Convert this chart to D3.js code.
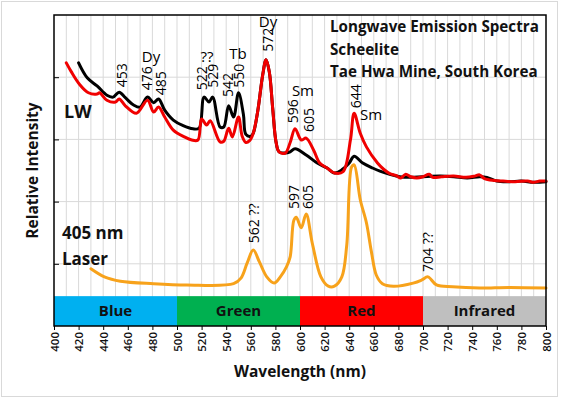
<!DOCTYPE html>
<html>
<head>
<meta charset="utf-8">
<script src="https://cdn.jsdelivr.net/npm/d3@7"></script>
<style>
body { margin: 0; background: #fff; }
svg text { font-family: "Open Sans", "DejaVu Sans", sans-serif; fill: #111; }
.grid line { stroke: #d9d9d9; stroke-width: 1; }
.band-label { font-weight: 700; font-size: 15px; }
.peak { font-size: 14px; fill: #000; }
.note { font-weight: 700; }
</style>
</head>
<body>
<svg class="main" width="561" height="399"></svg>
<script>
// longwave spectrum (black)
var lwWave = [420, 427, 435, 443, 448, 453, 458, 465, 470, 476, 481, 485, 490, 497, 505, 513, 518,
    522, 526, 529, 535, 538, 542, 546, 550, 554, 556, 560, 562, 565.6, 569.7, 572.4, 575, 577.8, 580.5, 583, 588, 592,
    596, 605, 614, 622, 628, 634, 640, 644, 651, 659, 665, 673, 681, 690, 700, 714, 725, 736,
    746, 752, 760, 770, 780, 790, 800];
var lwVals = [4.23, 3.99, 3.86, 3.71, 3.68, 3.76, 3.67, 3.55, 3.52, 3.68, 3.59, 3.65, 3.47, 3.31, 3.22, 3.17, 3.18,
    3.68, 3.60, 3.68, 3.20, 3.20, 3.54, 3.36, 3.75, 3.40, 3.08, 3.05, 3.10, 3.45, 4.04, 4.28, 4.09, 3.50, 2.96, 2.80, 2.78, 2.80,
    2.85, 2.75, 2.62, 2.54, 2.46, 2.51, 2.62, 2.73, 2.62, 2.54, 2.49, 2.44, 2.40, 2.39, 2.40, 2.41, 2.40, 2.38,
    2.40, 2.39, 2.33, 2.32, 2.33, 2.31, 2.32];

// second longwave trace (red)
var redWave = [410, 414, 421, 428, 435, 437, 443, 450, 453, 458, 467, 476, 481, 485, 490, 497, 506, 512, 517,
    520, 524, 527, 535, 538, 542, 545, 550, 553, 556, 559, 562, 565.6, 569.7, 572.4, 575, 577.8, 580.5, 583, 588, 592,
    596, 601, 605, 611, 616, 622, 628, 635, 641, 644, 649, 654, 663, 668, 673, 678, 682, 686, 690,
    695, 700, 705, 708, 715, 725, 735, 742, 746, 750, 758, 765, 775, 785, 790, 795, 800];
var redVals = [4.23, 4.09, 3.88, 3.75, 3.73, 3.75, 3.63, 3.60, 3.65, 3.54, 3.42, 3.63, 3.44, 3.52, 3.36, 3.15, 3.04, 2.99, 2.99,
    3.33, 3.23, 3.30, 2.96, 2.97, 3.18, 3.04, 3.36, 3.05, 2.95, 2.98, 3.10, 3.45, 4.04, 4.28, 4.09, 3.50, 2.96, 2.80, 2.78, 2.95,
    3.17, 2.99, 3.02, 2.83, 2.62, 2.54, 2.46, 2.48, 2.99, 3.42, 3.10, 2.88, 2.62, 2.52, 2.45, 2.42, 2.38, 2.44, 2.40,
    2.38, 2.40, 2.44, 2.39, 2.40, 2.41, 2.39, 2.41, 2.43, 2.37, 2.34, 2.33, 2.32, 2.33, 2.31, 2.33, 2.33];

// 405 nm laser excitation (orange)
var laserWave = [430, 441, 454, 481, 508, 546, 552, 557, 562, 567, 573, 579, 584, 589, 592, 595, 597, 601,
    605, 610, 617, 623, 628, 634, 638, 642, 644, 649, 654, 658, 662, 667, 676, 692, 699, 704, 711, 724, 746, 770, 800];
var laserVals = [0.92, 0.79, 0.72, 0.68, 0.66, 0.68, 0.77, 1.01, 1.22, 1.03, 0.79, 0.69, 0.79, 0.95, 1.11, 1.70, 1.75, 1.58,
    1.80, 1.33, 0.79, 0.64, 0.64, 0.79, 1.30, 2.56, 2.59, 2.03, 1.66, 1.20, 0.82, 0.68, 0.64, 0.69, 0.74, 0.79, 0.66, 0.63, 0.61, 0.62, 0.61];

var bandNames = ["Blue", "Green", "Red", "Infrared"];
var bandStart = [400, 500, 600, 700];
var bandEnd = [500, 600, 700, 800];
var bandTop = 0.48;

var xTicks = d3.range(400, 801, 20);
var xGrid = d3.range(410, 800, 10);
var yTicks = [0, 1, 2, 3, 4, 5];

// rotated peak labels: text, wavelength, intensity at the label foot
var peakText = ["453", "476", "485", "522", "529", "542", "550", "572", "596", "605", "644", "562 ??", "597", "605", "704 ??"];
var peakNm = [455.3, 475.6, 487, 520.3, 529.3, 541.5, 550.4, 574, 594.3, 607.3, 645.5, 562.6, 595.1, 606.5, 704.1];
var peakAt = [3.84, 3.79, 3.71, 3.79, 3.83, 3.68, 3.83, 4.41, 3.26, 3.12, 3.50, 1.33, 1.88, 1.88, 0.87];

// element tags above the peaks
var tagText = ["Dy", "??", "Tb", "Dy", "Sm", "Sm"];
var tagNm = [478.9, 524.4, 549.6, 574, 602.4, 648.8];
var tagAt = [4.25, 4.25, 4.29, 4.8, 3.7, 3.31];
var tagAnchor = ["middle", "middle", "middle", "middle", "middle", "start"];

var svg = d3.select("svg.main");

svg.append("rect")
    .attr("x", 1.5).attr("y", 1.5)
    .attr("width", 556).attr("height", 395)
    .attr("fill", "#fff")
    .attr("stroke", "#d9d9d9");

var x = d3.scaleLinear().domain([400, 800]).range([54, 546]);
var y = d3.scaleLinear().domain([0, 5]).range([326, 15]);

var grid = svg.append("g").attr("class", "grid");
grid.selectAll("line.v").data(xGrid).enter().append("line")
    .attr("x1", function (d) { return x(d); })
    .attr("x2", function (d) { return x(d); })
    .attr("y1", y(5)).attr("y2", y(0));
grid.selectAll("line.h").data(yTicks.slice(1, 5)).enter().append("line")
    .attr("x1", x(400)).attr("x2", x(800))
    .attr("y1", function (d) { return y(d); })
    .attr("y2", function (d) { return y(d); });

// colour bands along the bottom
var bandColor = d3.scaleOrdinal().domain(bandNames).range(["#00b0f0", "#00b050", "#ff0000", "#bfbfbf"]);
for (var i = 0; i < bandNames.length; i++) {
    svg.append("rect")
        .attr("x", x(bandStart[i]))
        .attr("y", y(bandTop))
        .attr("width", x(bandEnd[i]) - x(bandStart[i]))
        .attr("height", y(0) - y(bandTop))
        .attr("fill", bandColor(bandNames[i]));
    svg.append("text")
        .attr("class", "band-label")
        .attr("x", x((bandStart[i] + bandEnd[i]) / 2))
        .attr("y", y(bandTop / 2))
        .attr("dy", "0.36em")
        .attr("text-anchor", "middle")
        .text(bandNames[i]);
}

function drawSeries(wave, vals, color, width) {
    var pts = wave.map(function (w, j) { return [w, vals[j]]; });
    var line = d3.line()
        .x(function (d) { return x(d[0]); })
        .y(function (d) { return y(d[1]); })
        .curve(d3.curveCatmullRom.alpha(0.5));
    svg.append("path")
        .datum(pts)
        .attr("d", line)
        .attr("fill", "none")
        .attr("stroke", color)
        .attr("stroke-width", width)
        .attr("stroke-linejoin", "round")
        .attr("stroke-linecap", "round");
}

drawSeries(lwWave, lwVals, "#000000", 3);
drawSeries(redWave, redVals, "#f00000", 3);
drawSeries(laserWave, laserVals, "#f7a21b", 3);

// frame
svg.append("rect")
    .attr("x", x(400)).attr("y", y(5))
    .attr("width", x(800) - x(400)).attr("height", y(0) - y(5))
    .attr("fill", "none").attr("stroke", "#000").attr("stroke-width", 1.5);

// axes
var xAxis = svg.append("g")
    .attr("transform", "translate(0," + y(0) + ")")
    .call(d3.axisBottom(x).tickValues(xTicks).tickSize(4).tickFormat(d3.format("d")));
xAxis.select(".domain").remove();
xAxis.selectAll("line").attr("stroke", "#000");
xAxis.selectAll("text")
    .attr("transform", "rotate(-90)")
    .attr("x", -6).attr("y", 0).attr("dy", "0.35em")
    .attr("text-anchor", "end")
    .style("font-size", "11.5px").style("font-weight", "600")
    .style("font-family", "'Open Sans', sans-serif").attr("fill", "#111");

var yAxis = svg.append("g")
    .attr("transform", "translate(" + x(400) + ",0)")
    .call(d3.axisLeft(y).tickValues(yTicks.slice(1, 5)).tickSize(-5).tickFormat(""));
yAxis.select(".domain").remove();
yAxis.selectAll("line").attr("stroke", "#000");

svg.append("text")
    .attr("x", 300).attr("y", 372).attr("dy", "0.35em")
    .attr("text-anchor", "middle")
    .style("font-weight", "700").style("font-size", "15.5px")
    .text("Wavelength (nm)");

svg.append("text")
    .attr("transform", "translate(33," + (y(2.5)) + ") rotate(-90)")
    .attr("dy", "0.35em")
    .attr("text-anchor", "middle")
    .style("font-weight", "700").style("font-size", "15.5px")
    .text("Relative Intensity");

// peak numbers
for (var i = 0; i < peakText.length; i++) {
    svg.append("text")
        .attr("class", "peak")
        .attr("transform", "translate(" + x(peakNm[i]) + "," + y(peakAt[i]) + ") rotate(-90)")
        .attr("dy", "0.36em")
        .attr("text-anchor", "start")
        .text(peakText[i]);
}
for (var i = 0; i < tagText.length; i++) {
    svg.append("text")
        .attr("class", "peak")
        .attr("x", x(tagNm[i])).attr("y", y(tagAt[i]))
        .attr("text-anchor", tagAnchor[i])
        .style("font-size", "15px")
        .text(tagText[i]);
}

// notes
var title = ["Longwave Emission Spectra", "Scheelite", "Tae Hwa Mine, South Korea"];
svg.selectAll("text.title").data(title).enter().append("text")
    .attr("class", "note")
    .attr("x", 330)
    .attr("y", function (d, j) { return 27 + j * 22.5; })
    .attr("dy", "0.35em")
    .style("font-size", "15.2px")
    .text(function (d) { return d; });

svg.append("text").attr("class", "note")
    .attr("x", 64).attr("y", 112).attr("dy", "0.35em")
    .style("font-size", "18px").text("LW");
svg.append("text").attr("class", "note")
    .attr("x", 62).attr("y", 233).attr("dy", "0.35em")
    .style("font-size", "17px").text("405 nm");
svg.append("text").attr("class", "note")
    .attr("x", 62).attr("y", 259).attr("dy", "0.35em")
    .style("font-size", "17px").text("Laser");
</script>
</body>
</html>
